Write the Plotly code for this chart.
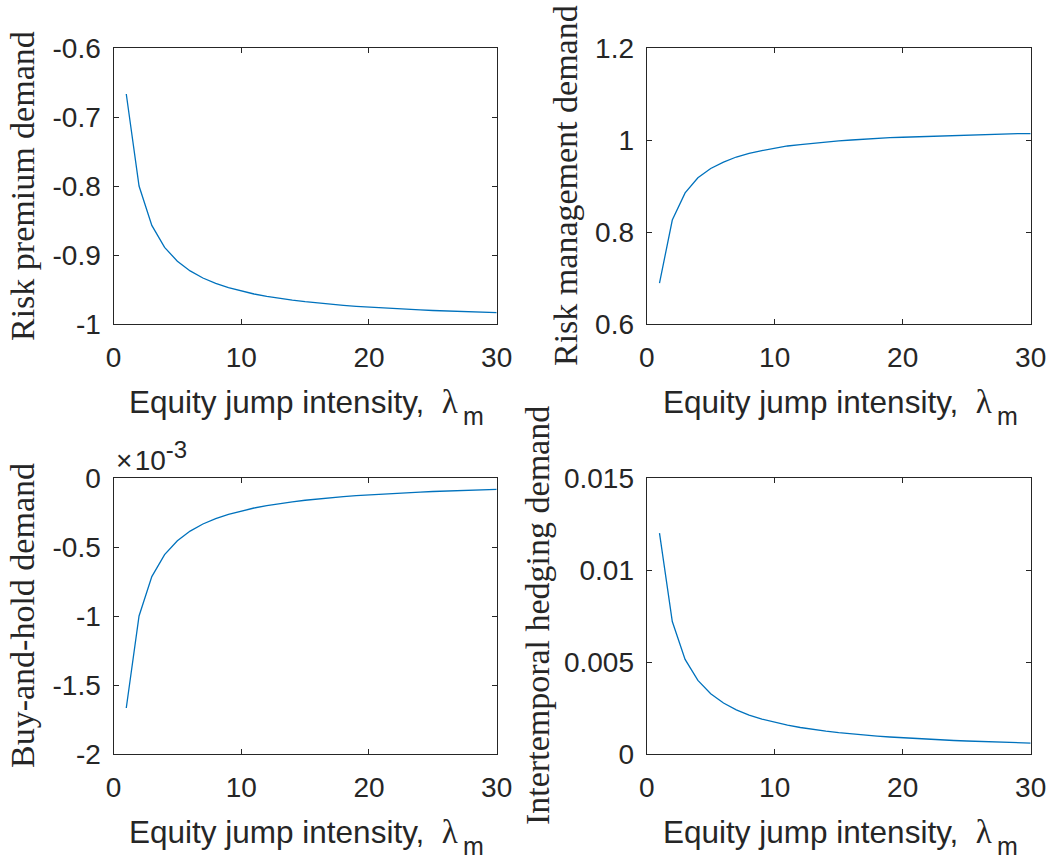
import plotly.graph_objects as go

# ---------------- data ----------------
lam = list(range(1, 31))

risk_premium = [-0.6667, -0.8000, -0.8571, -0.8889, -0.9091, -0.9231, -0.9333, -0.9412, -0.9474, -0.9524,
                -0.9565, -0.9600, -0.9630, -0.9655, -0.9677, -0.9697, -0.9714, -0.9730, -0.9744, -0.9756,
                -0.9767, -0.9778, -0.9787, -0.9796, -0.9804, -0.9811, -0.9818, -0.9825, -0.9831, -0.9836]

risk_management = [0.689, 0.826, 0.885, 0.918, 0.938, 0.952, 0.963, 0.971, 0.977, 0.982,
                   0.987, 0.990, 0.993, 0.996, 0.998, 1.000, 1.002, 1.003, 1.005, 1.006,
                   1.007, 1.008, 1.009, 1.010, 1.011, 1.012, 1.013, 1.013, 1.014, 1.014]

buy_and_hold = [-1.6667e-3, -1.0000e-3, -0.7143e-3, -0.5556e-3, -0.4545e-3, -0.3846e-3, -0.3333e-3, -0.2941e-3,
                -0.2632e-3, -0.2381e-3, -0.2174e-3, -0.2000e-3, -0.1852e-3, -0.1724e-3, -0.1613e-3, -0.1515e-3,
                -0.1429e-3, -0.1351e-3, -0.1282e-3, -0.1220e-3, -0.1163e-3, -0.1111e-3, -0.1064e-3, -0.1020e-3,
                -0.0980e-3, -0.0943e-3, -0.0909e-3, -0.0877e-3, -0.0847e-3, -0.0820e-3]

intertemporal = [0.012000, 0.007200, 0.005143, 0.004000, 0.003273, 0.002769, 0.002400, 0.002118, 0.001895, 0.001714,
                 0.001565, 0.001440, 0.001333, 0.001241, 0.001161, 0.001091, 0.001029, 0.000973, 0.000923, 0.000878,
                 0.000837, 0.000800, 0.000766, 0.000735, 0.000706, 0.000679, 0.000655, 0.000632, 0.000610, 0.000590]

x_ticks = [0, 10, 20, 30]
x_ticklabels = ["0", "10", "20", "30"]

rp_ticks = [-1.0, -0.9, -0.8, -0.7, -0.6]
rp_ticklabels = ["-1", "-0.9", "-0.8", "-0.7", "-0.6"]

rm_ticks = [0.6, 0.8, 1.0, 1.2]
rm_ticklabels = ["0.6", "0.8", "1", "1.2"]

bh_ticks = [-0.002, -0.0015, -0.001, -0.0005, 0.0]
bh_ticklabels = ["-2", "-1.5", "-1", "-0.5", "0"]

ih_ticks = [0.0, 0.005, 0.01, 0.015]
ih_ticklabels = ["0", "0.005", "0.01", "0.015"]

ylabels = ["Risk premium demand", "Risk management demand",
           "Buy-and-hold demand", "Intertemporal hedging demand"]
xlabel_main = "Equity jump intensity,&nbsp;&nbsp;<span style='font-family:Liberation Serif;font-size:33px'>λ</span>"
xlabel_sub = "m"
exponent_label = "×&#8202;10<sup><span style='font-size:24px'>-3</span></sup>"

# ---------------- layout geometry ----------------
W, H = 1051, 861
cols = [(113.5, 496.7), (646.7, 1030.7)]
rows = [(48, 324), (478, 754)]

LINE = "#0072BD"
AX = "#262626"
SANS = "Liberation Sans, Arial, Helvetica, sans-serif"
SERIF = "Liberation Serif, Times New Roman, serif"

fig = go.Figure()

panels = [
    (risk_premium, (-1.0, -0.6), rp_ticks, rp_ticklabels),
    (risk_management, (0.6, 1.2), rm_ticks, rm_ticklabels),
    (buy_and_hold, (-0.002, 0.0), bh_ticks, bh_ticklabels),
    (intertemporal, (0.0, 0.015), ih_ticks, ih_ticklabels),
]

ytitle_x = [22, 565, 22, 537]

annotations = []
layout_axes = {}
for i, (vals, yr, yt, ytl) in enumerate(panels):
    r, c = divmod(i, 2)
    xa = "x" if i == 0 else f"x{i+1}"
    ya = "y" if i == 0 else f"y{i+1}"
    fig.add_trace(go.Scatter(x=lam, y=vals, mode="lines", xaxis=xa, yaxis=ya,
                             line=dict(color=LINE, width=1.3), showlegend=False))
    x0, x1 = cols[c]
    top, bot = rows[r]
    common = dict(showline=True, linecolor=AX, linewidth=1.2, mirror="ticks",
                  ticks="inside", ticklen=5, tickwidth=1, tickcolor=AX,
                  showgrid=False, zeroline=False, automargin=False,
                  tickfont=dict(family=SANS, size=28, color=AX))
    layout_axes["xaxis" if i == 0 else f"xaxis{i+1}"] = dict(
        domain=[x0 / W, x1 / W], anchor=ya, range=[0, 30],
        tickmode="array", tickvals=x_ticks, ticktext=x_ticklabels,
        ticklabelstandoff=8, **common)
    layout_axes["yaxis" if i == 0 else f"yaxis{i+1}"] = dict(
        domain=[(H - bot) / H, (H - top) / H], anchor=xa, range=list(yr),
        tickmode="array", tickvals=yt, ticktext=ytl,
        ticklabelstandoff=6, **common)
    # y title
    annotations.append(dict(text=ylabels[i], xref="paper", yref="paper",
                            x=ytitle_x[i] / W, y=(H - (top + bot) / 2) / H,
                            xanchor="center", yanchor="middle", textangle=-90, showarrow=False,
                            font=dict(family=SERIF, size=34, color=AX)))
    # x title (main part ends with lambda, subscript m placed just after it)
    annotations.append(dict(text=xlabel_main, xref="paper", yref="paper",
                            x=(x1 - 37) / W, y=(H - (bot + 78)) / H,
                            xanchor="right", yanchor="middle", showarrow=False,
                            font=dict(family=SANS, size=31.5, color=AX)))
    annotations.append(dict(text=xlabel_sub, xref="paper", yref="paper",
                            x=(x1 - 36) / W, y=(H - (bot + 92)) / H,
                            xanchor="left", yanchor="middle", showarrow=False,
                            font=dict(family=SANS, size=25, color=AX)))

# exponent label for the buy-and-hold panel
annotations.append(dict(text=exponent_label, xref="paper", yref="paper",
                        x=cols[0][0] / W, y=(H - rows[1][0]) / H,
                        xanchor="left", yanchor="bottom", showarrow=False,
                        font=dict(family=SANS, size=28, color=AX)))

fig.update_layout(width=W, height=H, margin=dict(l=0, r=0, t=0, b=0, autoexpand=False),
                  paper_bgcolor="white", plot_bgcolor="white",
                  annotations=annotations, **layout_axes)

fig.write_html("out.html",
               post_script="document.body.style.margin='0';document.body.style.overflow='hidden';")
